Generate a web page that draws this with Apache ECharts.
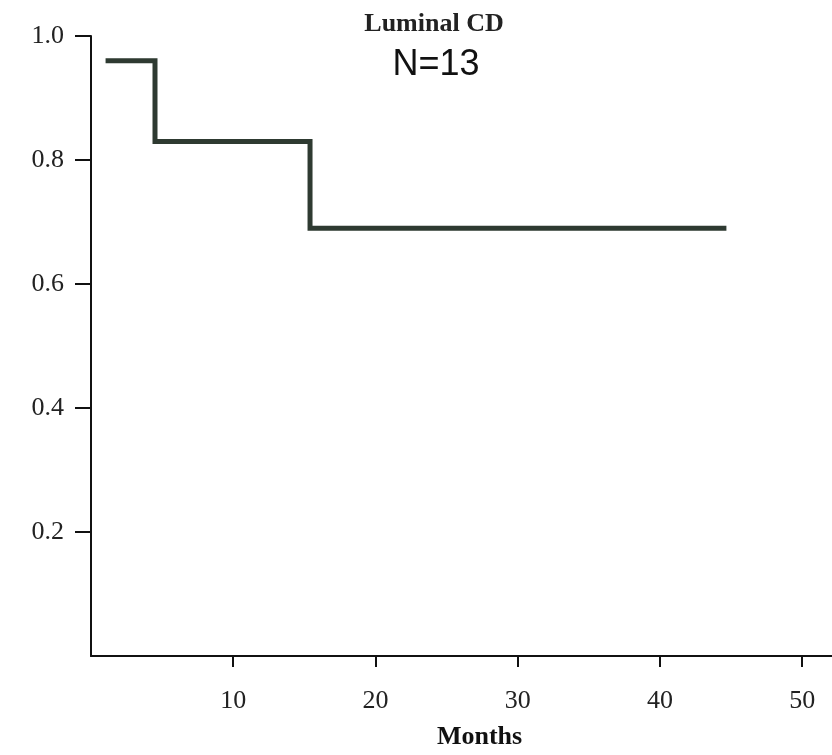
<!DOCTYPE html>
<html>
<head>
<meta charset="utf-8">
<script src="https://cdn.jsdelivr.net/npm/echarts@6/dist/echarts.min.js"></script>
<style>html,body{margin:0;padding:0;background:#fff;}#c{width:832px;height:755px;}</style>
</head>
<body>
<div id="c"></div>
<script>
var months = [1.2, 4.5, 15.4, 44.5];
var survival = [0.96, 0.83, 0.69, 0.69];
var xTicks = [10, 20, 30, 40, 50];
var yTicks = [0.2, 0.4, 0.6, 0.8, 1.0];

var chart = echarts.init(document.getElementById('c'));
var serif = '"Liberation Serif", "DejaVu Serif", serif';
chart.setOption({
  animation: false,
  backgroundColor: '#ffffff',
  title: [
    {text: 'Luminal CD', left: 429, top: 6, textAlign: 'center',
     textStyle: {fontFamily: serif, fontWeight: 'bold', fontSize: 26, color: '#222'}},
    {text: 'N=13', left: 431, top: 42, textAlign: 'center',
     textStyle: {fontFamily: '"Liberation Sans", Arial, sans-serif', fontWeight: 'normal', fontSize: 36, color: '#111'}}
  ],
  grid: {left: 91, right: 0, top: 36, bottom: 82},
  xAxis: {
    type: 'value', min: 0, max: 52.1, interval: 10,
    name: 'Months', nameLocation: 'middle', nameGap: 68,
    nameTextStyle: {fontFamily: serif, fontWeight: 'bold', fontSize: 26, color: '#111', padding: [0, 0, 0, 36]},
    axisLine: {show: true, lineStyle: {color: '#111', width: 2}},
    axisTick: {show: true, length: 11, customValues: xTicks, lineStyle: {color: '#111', width: 2}},
    axisLabel: {customValues: xTicks, margin: 32, fontFamily: serif, fontSize: 26, color: '#222'},
    splitLine: {show: false}
  },
  yAxis: {
    type: 'value', min: 0, max: 1, interval: 0.2,
    axisLine: {show: true, lineStyle: {color: '#111', width: 2}},
    axisTick: {show: true, length: 16, customValues: yTicks, lineStyle: {color: '#111', width: 2}},
    axisLabel: {customValues: yTicks, margin: 27, fontFamily: serif, fontSize: 26, color: '#222',
      formatter: function (v) { return v.toFixed(1); }},
    splitLine: {show: false}
  },
  series: [{
    type: 'line', step: 'end', showSymbol: false,
    data: months.map(function (m, i) { return [m, survival[i]]; }),
    lineStyle: {color: '#2e3a31', width: 5, cap: 'square', join: 'miter'}
  }]
});
</script>
</body>
</html>
